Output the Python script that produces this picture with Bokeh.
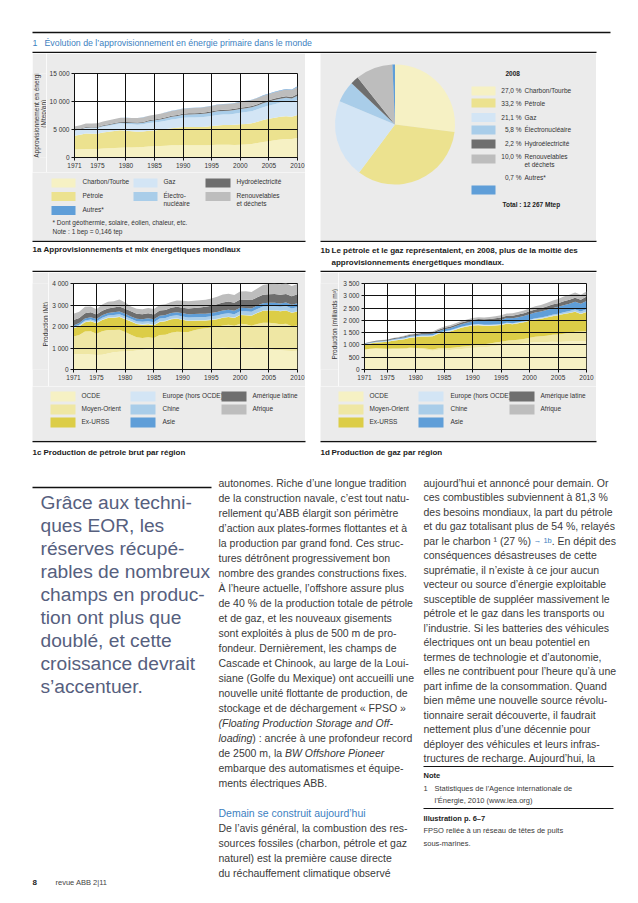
import unicodedata
import numpy as np
from bokeh.plotting import figure
from bokeh.models import Range1d, FixedTicker, ColumnDataSource, Spacer
from bokeh.layouts import row, column
from bokeh.core.properties import value
from bokeh.embed import file_html
from bokeh.resources import INLINE

FONT = "Liberation Sans"
GRAY = "#ebebeb"
TXT = "#3a3a3a"
BLUE_T = "#3d7fbf"
QUOTE = "#56607e"

# ---------------- DATA ----------------
years = list(range(1971, 2011))
x_ticks = [1971, 1975, 1980, 1985, 1990, 1995, 2000, 2005, 2010]

# 1a  Mtep
energy_names = ["Charbon/Tourbe", "Pétrole", "Gaz", "Électronucléaire", "Hydroélectricité",
                "Renouvelables et déchets", "Autres*"]
coal = [1440, 1460, 1500, 1500, 1530, 1590, 1640, 1680, 1760, 1780,
        1800, 1820, 1870, 1950, 2010, 2050, 2120, 2170, 2200, 2220,
        2200, 2180, 2190, 2200, 2250, 2280, 2290, 2260, 2250, 2280,
        2330, 2400, 2600, 2780, 2920, 3080, 3210, 3310, 3290, 3480]
oil = [2440, 2600, 2800, 2740, 2710, 2870, 2960, 3060, 3100, 2980,
       2880, 2800, 2780, 2830, 2830, 2910, 2960, 3050, 3100, 3230,
       3240, 3260, 3250, 3310, 3370, 3440, 3520, 3530, 3600, 3650,
       3670, 3700, 3780, 3900, 3990, 4030, 4080, 4060, 3990, 4110]
gas = [900, 940, 980, 990, 1000, 1050, 1080, 1120, 1190, 1230,
       1240, 1250, 1270, 1360, 1400, 1420, 1490, 1560, 1620, 1660,
       1710, 1720, 1750, 1760, 1800, 1890, 1880, 1910, 1960, 2070,
       2110, 2170, 2230, 2310, 2360, 2420, 2510, 2590, 2540, 2730]
nuclear = [30, 40, 53, 70, 100, 115, 140, 160, 165, 186,
           225, 245, 280, 340, 390, 415, 450, 480, 495, 525,
           550, 555, 575, 590, 610, 630, 625, 640, 660, 675,
           690, 695, 690, 715, 720, 730, 710, 712, 703, 720]
hydro = [105, 108, 110, 120, 123, 124, 127, 135, 141, 148,
         150, 155, 161, 165, 170, 173, 175, 180, 180, 184,
         190, 190, 200, 202, 212, 216, 219, 221, 223, 225,
         222, 225, 226, 239, 250, 258, 264, 276, 280, 295]
renew = [615, 625, 635, 650, 660, 675, 690, 705, 720, 750,
         765, 780, 795, 810, 825, 840, 855, 870, 885, 900,
         915, 925, 935, 945, 960, 975, 985, 995, 1010, 1030,
         1045, 1060, 1080, 1100, 1120, 1140, 1165, 1200, 1230, 1270]
other = [4, 4, 5, 5, 6, 7, 7, 8, 9, 10,
         12, 13, 15, 17, 20, 23, 26, 29, 32, 35,
         36, 37, 38, 40, 42, 44, 46, 48, 50, 55,
         57, 59, 62, 66, 70, 74, 80, 85, 95, 110]
energy_colors = ["#f6f1c4", "#ece28f", "#d3e5f5", "#a9cde9", "#6e6e6e", "#bdbdbd", "#5f9ed8"]
y1a_ticks = [0, 5000, 10000, 15000]
y1a_labels = ["0", "5 000", "10 000", "15 000"]

# 1b  pie 2008
pie_labels = ["Charbon/Tourbe", "Pétrole", "Gaz", "Électronucléaire", "Hydroélectricité",
              "Renouvelables", "Autres*"]
pie_values = [27.0, 33.2, 21.1, 5.8, 2.2, 10.0, 0.7]
pie_pct = ["27,0 %", "33,2 %", "21,1 %", "5,8 %", "2,2 %", "10,0 %", "0,7 %"]

# regions
region_names = ["OCDE", "Moyen-Orient", "Ex-URSS", "Europe (hors OCDE)", "Chine", "Asie",
                "Amérique latine", "Afrique"]
region_colors = ["#f6f1c4", "#efe7a4", "#dccd47", "#d3e5f5", "#a9cde9", "#5f9ed8", "#6e6e6e", "#bdbdbd"]

# 1c  Mt
oil_ocde = [700, 710, 720, 700, 680, 690, 740, 800, 820, 840,
            850, 880, 910, 950, 960, 950, 940, 930, 900, 890,
            910, 920, 930, 960, 980, 1000, 1010, 1000, 980, 1010,
            1000, 1010, 1000, 980, 940, 910, 890, 870, 860, 870]
oil_mo = [840, 900, 1050, 1080, 980, 1090, 1100, 1040, 1030, 900,
          770, 620, 560, 550, 500, 650, 680, 780, 860, 850,
          830, 900, 950, 960, 970, 990, 1040, 1080, 1050, 1120,
          1100, 1030, 1120, 1200, 1230, 1240, 1210, 1260, 1150, 1180]
oil_urss = [380, 400, 430, 460, 490, 520, 550, 570, 590, 600,
            610, 615, 617, 610, 595, 615, 625, 625, 605, 570,
            515, 450, 400, 360, 355, 350, 355, 360, 370, 400,
            425, 460, 510, 555, 575, 595, 615, 615, 630, 645]
oil_europe = [20, 21, 21, 22, 22, 23, 23, 24, 24, 24,
              24, 24, 24, 24, 23, 23, 22, 22, 21, 20,
              19, 18, 17, 17, 16, 16, 16, 15, 15, 15,
              15, 15, 15, 15, 14, 14, 14, 13, 13, 13]
oil_chine = [39, 45, 54, 65, 77, 87, 94, 104, 106, 106,
             101, 102, 106, 115, 125, 131, 134, 137, 138, 138,
             141, 142, 145, 146, 150, 158, 161, 161, 160, 163,
             165, 167, 170, 175, 181, 184, 186, 190, 189, 203]
oil_asie = [70, 85, 100, 100, 95, 110, 120, 120, 125, 120,
            115, 115, 120, 130, 130, 130, 130, 135, 140, 145,
            150, 150, 150, 155, 160, 165, 165, 165, 160, 160,
            160, 160, 160, 160, 160, 160, 160, 165, 165, 170]
oil_amlat = [250, 240, 245, 230, 210, 210, 215, 220, 235, 230,
             235, 235, 230, 235, 230, 240, 240, 240, 250, 260,
             275, 285, 295, 315, 335, 355, 375, 380, 370, 385,
             385, 385, 380, 395, 400, 405, 400, 400, 405, 415]
oil_afrique = [290, 285, 295, 270, 250, 290, 310, 300, 330, 300,
               230, 230, 230, 245, 255, 260, 265, 270, 295, 320,
               330, 335, 330, 330, 340, 350, 365, 365, 360, 380,
               385, 380, 410, 450, 475, 480, 490, 495, 470, 480]
y1c_ticks = [0, 1000, 2000, 3000, 4000]
y1c_labels = ["0", "1 000", "2 000", "3 000", "4 000"]

# 1d  milliards m3
gas_ocde = [790, 820, 840, 830, 810, 820, 820, 820, 850, 840,
            830, 790, 760, 800, 800, 790, 810, 830, 850, 880,
            900, 910, 930, 960, 980, 1020, 1030, 1040, 1060, 1090,
            1110, 1110, 1120, 1130, 1120, 1130, 1140, 1160, 1150, 1140]
gas_mo = [20, 22, 25, 28, 30, 35, 38, 40, 38, 37,
          45, 50, 57, 65, 75, 80, 90, 95, 100, 100,
          105, 115, 125, 135, 145, 155, 165, 175, 185, 205,
          225, 240, 255, 280, 305, 330, 355, 380, 400, 420]
gas_urss = [200, 215, 230, 255, 285, 320, 345, 375, 405, 435,
            465, 500, 535, 585, 640, 680, 720, 770, 795, 810,
            800, 760, 730, 700, 690, 690, 650, 670, 675, 690,
            700, 715, 740, 760, 780, 795, 800, 810, 710, 780]
gas_europe = [18, 19, 20, 21, 22, 23, 24, 25, 26, 27,
              28, 28, 29, 29, 30, 30, 30, 30, 30, 29,
              27, 25, 23, 22, 21, 20, 19, 18, 17, 16,
              16, 16, 15, 15, 15, 15, 14, 14, 14, 13]
gas_chine = [4, 5, 6, 8, 9, 10, 12, 14, 15, 14,
             13, 12, 12, 12, 13, 14, 14, 14, 15, 15,
             16, 16, 17, 18, 18, 20, 23, 23, 25, 27,
             30, 33, 35, 41, 50, 59, 69, 80, 85, 95]
gas_asie = [12, 15, 18, 20, 23, 26, 30, 35, 40, 45,
            50, 55, 62, 70, 80, 88, 95, 105, 115, 125,
            135, 145, 155, 165, 175, 190, 200, 205, 215, 225,
            235, 245, 260, 270, 280, 290, 300, 310, 315, 340]
gas_amlat = [25, 27, 30, 32, 33, 35, 38, 42, 45, 48,
             50, 52, 54, 57, 60, 62, 64, 66, 68, 70,
             72, 75, 80, 85, 90, 95, 100, 105, 110, 118,
             125, 130, 138, 145, 150, 158, 162, 168, 168, 180]
gas_afrique = [3, 4, 6, 8, 10, 12, 15, 18, 22, 24,
               28, 32, 38, 45, 50, 54, 57, 60, 65, 68,
               72, 75, 78, 80, 85, 92, 98, 105, 112, 125,
               130, 135, 145, 155, 170, 190, 200, 210, 200, 210]
y1d_ticks = [0, 500, 1000, 1500, 2000, 2500, 3000, 3500]
y1d_labels = ["0", "500", "1 000", "1 500", "2 000", "2 500", "3 000", "3 500"]

# ---------------- TEXT METRICS (Arial / Liberation Sans) ----------------
WID = {' ': 278, '!': 278, '"': 355, '%': 889, '&': 667, "'": 191, '(': 333, ')': 333, '*': 389,
       '+': 584, ',': 278, '-': 333, '.': 278, '/': 278, ':': 278, ';': 278, '=': 584, '?': 556,
       '’': 222, '«': 556, '»': 556, '–': 556, '→': 1000, '¹': 333, '|': 260}
for ch in "0123456789":
    WID[ch] = 556
for ch, w in zip("ABCDEFGHIJKLMNOPQRSTUVWXYZ",
                 [667, 667, 722, 722, 667, 611, 778, 722, 278, 500, 667, 556, 833, 722, 778, 667, 778,
                  722, 667, 611, 722, 667, 944, 667, 667, 611]):
    WID[ch] = w
for ch, w in zip("abcdefghijklmnopqrstuvwxyz",
                 [556, 556, 500, 556, 556, 278, 556, 556, 222, 222, 500, 222, 833, 556, 556, 556, 556,
                  333, 500, 278, 556, 500, 722, 500, 500, 500]):
    WID[ch] = w


def tw(s, size):
    tot = 0
    for ch in s:
        base = unicodedata.normalize("NFD", ch)[0]
        tot += WID.get(ch, WID.get(base, 556))
    return tot * size / 1000.0


# ---------------- HELPERS ----------------
def canvas(w, h, bg="white", yup=False):
    p = figure(width=w, height=h, x_range=Range1d(0, w),
               y_range=Range1d(0, h) if yup else Range1d(h, 0),
               min_border=0, toolbar_location=None, output_backend="svg",
               x_axis_location=None, y_axis_location=None, title_location=None,
               background_fill_color=bg, border_fill_color=bg, outline_line_color=None)
    p.grid.visible = False
    return p


def txt(p, x, y, s, size=10, color=TXT, style="normal", align="left", angle=0.0):
    p.text(x=[x], y=[y], text=[s], text_font=value(FONT), text_font_size=f"{size}px",
           text_color=color, text_font_style=style, text_align=align,
           text_baseline="middle", angle=angle)


def rule(p, x0, x1, y, lw=1.5):
    p.segment(x0=[x0], y0=[y], x1=[x1], y1=[y], line_color="#111111", line_width=lw)


def swatch(p, x0, x1, yc, h, color):
    p.quad(left=[x0], right=[x1], top=[yc - h / 2], bottom=[yc + h / 2],
           fill_color=color, line_color=None)


def draw_line(p, x, y, item, size, color):
    if isinstance(item, str):
        txt(p, x, y, item, size, color)
    else:
        cx = x
        for s, style, col, sz in item:
            txt(p, cx, y, s, sz, col, style)
            cx += tw(s, sz)


def make_chart(w, h, y_end, yticks, ylabels, names, colors, data, mbl, mbr, mbt, mbb):
    p = figure(width=w, height=h, x_range=Range1d(1971, 2010), y_range=Range1d(0, y_end),
               toolbar_location=None, output_backend="svg", title_location=None,
               min_border_left=mbl, min_border_right=mbr, min_border_top=mbt, min_border_bottom=mbb,
               background_fill_color="white", border_fill_color=GRAY,
               outline_line_color="#111111", outline_line_width=1)
    src = ColumnDataSource(dict(year=years, **data))
    p.varea_stack(stackers=names, x="year", color=colors, source=src)
    p.xaxis.ticker = FixedTicker(ticks=x_ticks)
    p.yaxis.ticker = FixedTicker(ticks=yticks)
    p.yaxis.major_label_overrides = {t: l for t, l in zip(yticks, ylabels)}
    for ax in p.axis:
        ax.axis_line_color = "#111111"
        ax.major_tick_line_color = "#111111"
        ax.major_tick_out = 3
        ax.major_tick_in = 0
        ax.minor_tick_line_color = None
        ax.major_label_text_font = FONT
        ax.major_label_text_font_size = "6.5px"
        ax.major_label_text_color = "#333333"
        ax.major_label_standoff = 2
    p.xgrid.ticker = FixedTicker(ticks=x_ticks)
    p.ygrid.ticker = FixedTicker(ticks=yticks)
    p.grid.grid_line_color = "#111111"
    p.grid.grid_line_width = 1
    p.grid.level = "overlay"
    return p


# ---------------- HEADER (abs y 8..53) ----------------
H = canvas(622, 45)
rule(H, 24, 602, 24)
rule(H, 24, 588, 44)
txt(H, 24, 34, "1", 8.8, BLUE_T)
txt(H, 36, 34, "Évolution de l’approvisionnement en énergie primaire dans le monde", 8.8, BLUE_T)

# ---------------- 1a ----------------
lab1a = canvas(14, 119, GRAY)
txt(lab1a, 3.5, 57, "Approvisionnement en énergie", 6.5, "#333333", align="center", angle=np.pi / 2)
txt(lab1a, 11, 57, "(Mtep/an)", 6.5, "#333333", align="center", angle=np.pi / 2)
keys1a = ["coal", "oil", "gas", "nuclear", "hydro", "renew", "other"]
ch1a = make_chart(259, 119, 15000, y1a_ticks, y1a_labels, keys1a, energy_colors,
                  dict(coal=coal, oil=oil, gas=gas, nuclear=nuclear, hydro=hydro, renew=renew, other=other),
                  26, 8, 20, 15)

leg1a = canvas(273, 68, GRAY)
leg_a = [
    (19, 43, 50, 10.5, 0, ["Charbon/Tourbe"]),
    (19, 43, 50, 24, 1, ["Pétrole"]),
    (19, 43, 50, 38, 6, ["Autres*"]),
    (101, 125, 131, 10.5, 2, ["Gaz"]),
    (101, 125, 131, 24, 3, ["Électro-", "nucléaire"]),
    (173, 198, 204, 10.5, 4, ["Hydroélectricité"]),
    (173, 198, 204, 24, 5, ["Renouvelables", "et déchets"]),
]
for x0, x1, lx, yc, ci, lines in leg_a:
    swatch(leg1a, x0, x1, yc, 9, energy_colors[ci])
    for k, s in enumerate(lines):
        txt(leg1a, lx, yc - 1.5 + 8.5 * k, s, 6.5, "#333333")
txt(leg1a, 20, 50, "* Dont géothermie, solaire, éolien, chaleur, etc.", 6.5, "#333333")
txt(leg1a, 20, 58.5, "Note : 1 bep = 0,146 tep", 6.5, "#333333")

# ---------------- 1b pie (abs x 320..596, y 53..240) ----------------
pie = canvas(276, 187, GRAY, yup=True)
frac = np.array(pie_values) / np.sum(pie_values)
cum = np.cumsum(frac)
pie_src = ColumnDataSource(dict(
    start=np.pi / 2 - cum * 2 * np.pi,
    end=np.pi / 2 - (cum - frac) * 2 * np.pi,
    color=energy_colors))
pie.wedge(x=74.5, y=116, radius=60, start_angle="start", end_angle="end",
          fill_color="color", line_color=None, source=pie_src)
txt(pie, 185, 167, "2008", 6.5, "#222222", "bold")
sw_y = [149.5, 137.5, 123, 110.5, 96.5, 81.5, 50.5]
tx_y = [150.5, 137.5, 123, 111, 97, 84, 63]
for i in range(7):
    swatch(pie, 151, 175, sw_y[i], 9, energy_colors[i])
    txt(pie, 201, tx_y[i], pie_pct[i], 6.5, "#333333", align="right")
    txt(pie, 204, tx_y[i], pie_labels[i], 6.5, "#333333")
txt(pie, 204, 76, "et déchets", 6.5, "#333333")
txt(pie, 182, 36, "Total : 12 267 Mtep", 6.5, "#222222", "bold")

# ---------------- captions row C (abs y 240..272) ----------------
CAP = 8
C = canvas(622, 32)
rule(C, 24, 297, 0.75)
rule(C, 312, 588, 0.75)
rule(C, 24, 297, 31)
rule(C, 312, 588, 31)
txt(C, 24, 9, "1a", CAP, "#1a1a1a", "bold")
txt(C, 35, 9, "Approvisionnements et mix énergétiques mondiaux", CAP, "#1a1a1a", "bold")
txt(C, 312, 10, "1b", CAP, "#1a1a1a", "bold")
txt(C, 323, 10, "Le pétrole et le gaz représentaient, en 2008, plus de la moitié des", CAP, "#1a1a1a", "bold")
txt(C, 323, 21.5, "approvisionnements énergétiques mondiaux.", CAP, "#1a1a1a", "bold")

# ---------------- 1c / 1d ----------------
keys_r = ["ocde", "mo", "urss", "europe", "chine", "asie", "amlat", "afrique"]
lab1c = canvas(16, 114, GRAY)
txt(lab1c, 13, 54, "Production (Mt)", 6.5, "#333333", align="center", angle=np.pi / 2)
ch1c = make_chart(257, 114, 4000, y1c_ticks, y1c_labels, keys_r, region_colors,
                  dict(ocde=oil_ocde, mo=oil_mo, urss=oil_urss, europe=oil_europe, chine=oil_chine,
                       asie=oil_asie, amlat=oil_amlat, afrique=oil_afrique),
                  25, 8, 11, 17)
lab1d = canvas(18, 114, GRAY)
txt(lab1d, 14, 54, "Production (milliards m³)", 6.5, "#333333", align="center", angle=np.pi / 2)
ch1d = make_chart(258, 114, 3500, y1d_ticks, y1d_labels, keys_r, region_colors,
                  dict(ocde=gas_ocde, mo=gas_mo, urss=gas_urss, europe=gas_europe, chine=gas_chine,
                       asie=gas_asie, amlat=gas_amlat, afrique=gas_afrique),
                  26, 10, 11, 17)


def region_legend(w):
    p = canvas(w, 54, GRAY)
    cols = [(18, 43, 49), (98, 123, 130), (189, 214, 220)]
    rows_y = [10, 23, 36]
    for i, name in enumerate(region_names):
        c, r = divmod(i, 3)
        x0, x1, lx = cols[c]
        swatch(p, x0, x1, rows_y[r], 10, region_colors[i])
        txt(p, lx, rows_y[r] - 1, name, 6.5, "#333333")
    return p


leg1c = region_legend(273)
leg1d = region_legend(276)

# ---------------- captions row E (abs y 440..470) ----------------
E = canvas(622, 30)
rule(E, 24, 297, 1)
rule(E, 312, 588, 1)
txt(E, 24, 12, "1c", CAP, "#1a1a1a", "bold")
txt(E, 35, 12, "Production de pétrole brut par région", CAP, "#1a1a1a", "bold")
txt(E, 312, 12, "1d", CAP, "#1a1a1a", "bold")
txt(E, 323, 12, "Production de gaz par région", CAP, "#1a1a1a", "bold")

# ---------------- text section F (abs y 470..895, local = abs - 470) ----------------
F = canvas(622, 425)
rule(F, 24, 203, 17, 1.3)
quote_lines = ["Grâce aux techni-", "ques EOR, les", "réserves récupé-", "rables de nombreux",
               "champs en produc-", "tion ont plus que", "doublé, et cette", "croissance devrait",
               "s’accentuer."]
for k, s in enumerate(quote_lines):
    txt(F, 32, 32 + 23 * k, s, 19.2, QUOTE)

BS = 10.5
Y0 = 12
n, it = "normal", "italic"
mid_lines = [
    "autonomes. Riche d’une longue tradition",
    "de la construction navale, c’est tout natu-",
    "rellement qu’ABB élargit son périmètre",
    "d’action aux plates-formes flottantes et à",
    "la production par grand fond. Ces struc-",
    "tures détrônent progressivement bon",
    "nombre des grandes constructions fixes.",
    "À l’heure actuelle, l’offshore assure plus",
    "de 40 % de la production totale de pétrole",
    "et de gaz, et les nouveaux gisements",
    "sont exploités à plus de 500 m de pro-",
    "fondeur. Dernièrement, les champs de",
    "Cascade et Chinook, au large de la Loui-",
    "siane (Golfe du Mexique) ont accueilli une",
    "nouvelle unité flottante de production, de",
    "stockage et de déchargement « FPSO »",
    [("(Floating Production Storage and Off-", it, TXT, BS)],
    [("loading", it, TXT, BS), (") : ancrée à une profondeur record", n, TXT, BS)],
    [("de 2500 m, la ", n, TXT, BS), ("BW Offshore Pioneer", it, TXT, BS)],
    "embarque des automatismes et équipe-",
    "ments électriques ABB.",
]
LS_MID = 15.0
for k, item in enumerate(mid_lines):
    draw_line(F, 210, Y0 + LS_MID * k, item, BS, TXT)
y_head = Y0 + LS_MID * 22
txt(F, 210, y_head, "Demain se construit aujourd’hui", BS, BLUE_T)
mid2 = ["De l’avis général, la combustion des res-",
        "sources fossiles (charbon, pétrole et gaz",
        "naturel) est la première cause directe",
        "du réchauffement climatique observé"]
for k, s in enumerate(mid2):
    txt(F, 210, y_head + LS_MID * (k + 1), s, BS, TXT)

right_lines = [
    "aujourd’hui et annoncé pour demain. Or",
    "ces combustibles subviennent à 81,3 %",
    "des besoins mondiaux, la part du pétrole",
    "et du gaz totalisant plus de 54 %, relayés",
    [("par le charbon ¹ (27 %) ", n, TXT, BS), ("→ 1b", n, BLUE_T, 7.5), (". En dépit des", n, TXT, BS)],
    "conséquences désastreuses de cette",
    "suprématie, il n’existe à ce jour aucun",
    "vecteur ou source d’énergie exploitable",
    "susceptible de suppléer massivement le",
    "pétrole et le gaz dans les transports ou",
    "l’industrie. Si les batteries des véhicules",
    "électriques ont un beau potentiel en",
    "termes de technologie et d’autonomie,",
    "elles ne contribuent pour l’heure qu’à une",
    "part infime de la consommation. Quand",
    "bien même une nouvelle source révolu-",
    "tionnaire serait découverte, il faudrait",
    "nettement plus d’une décennie pour",
    "déployer des véhicules et leurs infras-",
    "tructures de recharge. Aujourd’hui, la",
]
RX = 415
LS_R = 14.5
for k, item in enumerate(right_lines):
    draw_line(F, RX, Y0 + LS_R * k, item, BS, TXT)
r1 = 296
rule(F, RX, 605, r1, 1.2)
txt(F, RX, r1 + 9, "Note", 7.5, "#222222", "bold")
txt(F, RX, r1 + 22, "1", 7.5, TXT)
txt(F, RX + 11, r1 + 22, "Statistiques de l’Agence internationale de", 7.5, TXT)
txt(F, RX + 11, r1 + 34, "l’Énergie, 2010 (www.iea.org)", 7.5, TXT)
r2 = r1 + 42
rule(F, RX, 605, r2, 1.2)
txt(F, RX, r2 + 10, "Illustration p. 6–7", 7.5, "#222222", "bold")
txt(F, RX, r2 + 22, "FPSO reliée à un réseau de têtes de puits", 7.5, TXT)
txt(F, RX, r2 + 35, "sous-marines.", 7.5, TXT)

txt(F, 24, 412, "8", 8, "#222222", "bold")
txt(F, 47, 412, "revue ABB 2|11", 7.5, "#444444")

# ---------------- LAYOUT ----------------
inner = column(
    H,
    row(Spacer(width=24, height=187), column(row(lab1a, ch1a), leg1a),
        Spacer(width=15, height=187), pie, Spacer(width=34, height=187)),
    C,
    row(Spacer(width=24, height=168), column(row(lab1c, ch1c), leg1c),
        Spacer(width=15, height=168), column(row(lab1d, ch1d), leg1d),
        Spacer(width=34, height=168)),
    E,
    F,
)
layout = column(Spacer(width=630, height=8), row(Spacer(width=8, height=887), inner))

open("out.html", "w").write(file_html(layout, INLINE))
